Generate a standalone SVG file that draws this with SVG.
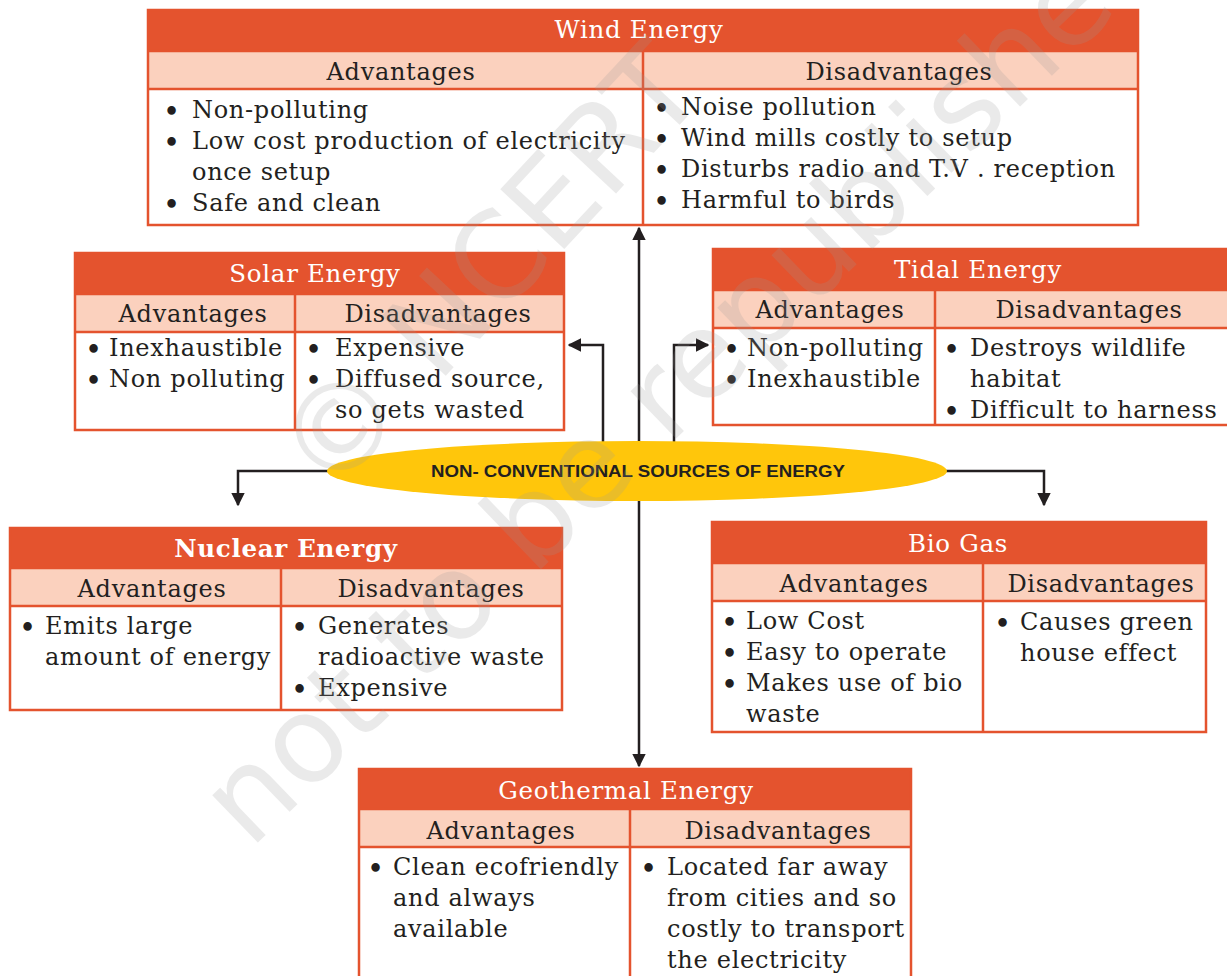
<svg xmlns="http://www.w3.org/2000/svg" width="1227" height="976" viewBox="0 0 1227 976">
<defs>
<style>
.hd{fill:#E4532E}
.sb{fill:#FBD1BE}
.bx{fill:none;stroke:#E4532E;stroke-width:2.5}
.ln{stroke:#E4532E;stroke-width:2.5}
.t{font-family:"DejaVu Serif",serif;font-size:24px;letter-spacing:0.7px;fill:#231F20}
.tt{font-family:"DejaVu Serif",serif;font-size:24.5px;letter-spacing:0.7px;fill:#FFFFFF;text-anchor:middle}
.b{font-size:29px;letter-spacing:0}
.c{text-anchor:middle}
.cn{fill:none;stroke:#231F20;stroke-width:2.5}
.wm{font-family:"DejaVu Sans",sans-serif;font-size:120px;fill:#9a9a9a;opacity:0.2}
</style>
<marker id="ah" viewBox="0 0 10 10" refX="9" refY="5" markerWidth="5.5" markerHeight="5.5" orient="auto" markerUnits="strokeWidth">
<path d="M0,0 L10,5 L0,10 z" fill="#231F20"/>
</marker>
</defs>
<rect width="1227" height="976" fill="#FFFFFF"/>

<g id="connectors">
<line class="cn" x1="639" y1="500" x2="639" y2="228" marker-end="url(#ah)"/>
<line class="cn" x1="639" y1="500" x2="639" y2="766" marker-end="url(#ah)"/>
<polyline class="cn" points="603,445 603,345 569,345" marker-end="url(#ah)"/>
<polyline class="cn" points="674,445 674,345 708,345" marker-end="url(#ah)"/>
<polyline class="cn" points="330,471 238,471 238,505" marker-end="url(#ah)"/>
<polyline class="cn" points="945,471 1044,471 1044,505" marker-end="url(#ah)"/>
</g>

<g id="center">
<ellipse cx="637" cy="471" rx="310" ry="30" fill="#FFC60B"/>
<text x="638" y="477" text-anchor="middle" font-family="Liberation Sans, Arial, sans-serif" font-weight="bold" font-size="16" textLength="414" lengthAdjust="spacingAndGlyphs" fill="#231F20">NON- CONVENTIONAL SOURCES OF ENERGY</text>
</g>

<g id="wind">
<rect class="hd" x="148" y="10" width="990" height="41"/>
<rect class="sb" x="148" y="51" width="990" height="38"/>
<rect class="bx" x="148" y="10" width="990" height="215"/>
<line class="ln" x1="148" y1="51" x2="1138" y2="51"/>
<line class="ln" x1="148" y1="89" x2="1138" y2="89"/>
<line class="ln" x1="643" y1="51" x2="643" y2="225"/>
<text class="tt" x="639" y="38">Wind Energy</text>
<text class="t c" x="401" y="80">Advantages</text>
<text class="t c" x="899" y="80">Disadvantages</text>
<text class="t" y="118"><tspan class="b" x="163" dy="4">•</tspan><tspan x="192" dy="-4">Non-polluting</tspan></text>
<text class="t" y="149"><tspan class="b" x="163" dy="4">•</tspan><tspan x="192" dy="-4">Low cost production of electricity</tspan></text>
<text class="t" x="192" y="180">once setup</text>
<text class="t" y="211"><tspan class="b" x="163" dy="4">•</tspan><tspan x="192" dy="-4">Safe and clean</tspan></text>
<text class="t" y="115"><tspan class="b" x="653" dy="4">•</tspan><tspan x="681" dy="-4">Noise pollution</tspan></text>
<text class="t" y="146"><tspan class="b" x="653" dy="4">•</tspan><tspan x="681" dy="-4">Wind mills costly to setup</tspan></text>
<text class="t" y="177"><tspan class="b" x="653" dy="4">•</tspan><tspan x="681" dy="-4">Disturbs radio and T.V . reception</tspan></text>
<text class="t" y="208"><tspan class="b" x="653" dy="4">•</tspan><tspan x="681" dy="-4">Harmful to birds</tspan></text>
</g>

<g id="solar">
<rect class="hd" x="75" y="253" width="489" height="41"/>
<rect class="sb" x="75" y="294" width="489" height="38"/>
<rect class="bx" x="75" y="253" width="489" height="177"/>
<line class="ln" x1="75" y1="294" x2="564" y2="294"/>
<line class="ln" x1="75" y1="332" x2="564" y2="332"/>
<line class="ln" x1="295" y1="294" x2="295" y2="430"/>
<text class="tt" x="315" y="282">Solar Energy</text>
<text class="t c" x="193" y="322">Advantages</text>
<text class="t c" x="438" y="322">Disadvantages</text>
<text class="t" y="356"><tspan class="b" x="85" dy="4">•</tspan><tspan x="109" dy="-4">Inexhaustible</tspan></text>
<text class="t" y="387"><tspan class="b" x="85" dy="4">•</tspan><tspan x="109" dy="-4">Non polluting</tspan></text>
<text class="t" y="356"><tspan class="b" x="305" dy="4">•</tspan><tspan x="335" dy="-4">Expensive</tspan></text>
<text class="t" y="387"><tspan class="b" x="305" dy="4">•</tspan><tspan x="335" dy="-4">Diffused source,</tspan></text>
<text class="t" x="335" y="418">so gets wasted</text>
</g>

<g id="tidal">
<rect class="hd" x="713" y="249" width="520" height="41"/>
<rect class="sb" x="713" y="290" width="520" height="38"/>
<rect class="bx" x="713" y="249" width="520" height="176"/>
<line class="ln" x1="713" y1="290" x2="1233" y2="290"/>
<line class="ln" x1="713" y1="328" x2="1233" y2="328"/>
<line class="ln" x1="935" y1="290" x2="935" y2="425"/>
<text class="tt" x="978" y="278">Tidal Energy</text>
<text class="t c" x="830" y="318">Advantages</text>
<text class="t c" x="1089" y="318">Disadvantages</text>
<text class="t" y="356"><tspan class="b" x="723" dy="4">•</tspan><tspan x="747" dy="-4">Non-polluting</tspan></text>
<text class="t" y="387"><tspan class="b" x="723" dy="4">•</tspan><tspan x="747" dy="-4">Inexhaustible</tspan></text>
<text class="t" y="356"><tspan class="b" x="943" dy="4">•</tspan><tspan x="970" dy="-4">Destroys wildlife</tspan></text>
<text class="t" x="970" y="387">habitat</text>
<text class="t" y="418"><tspan class="b" x="943" dy="4">•</tspan><tspan x="970" dy="-4">Difficult to harness</tspan></text>
</g>

<g id="nuclear">
<rect class="hd" x="10" y="528" width="552" height="40"/>
<rect class="sb" x="10" y="568" width="552" height="38"/>
<rect class="bx" x="10" y="528" width="552" height="182"/>
<line class="ln" x1="10" y1="568" x2="562" y2="568"/>
<line class="ln" x1="10" y1="606" x2="562" y2="606"/>
<line class="ln" x1="281" y1="568" x2="281" y2="710"/>
<text class="tt" x="286" y="557" font-weight="bold" letter-spacing="0.3">Nuclear Energy</text>
<text class="t c" x="152" y="597">Advantages</text>
<text class="t c" x="431" y="597">Disadvantages</text>
<text class="t" y="634"><tspan class="b" x="19" dy="4">•</tspan><tspan x="45" dy="-4">Emits large</tspan></text>
<text class="t" x="45" y="665">amount of energy</text>
<text class="t" y="634"><tspan class="b" x="291" dy="4">•</tspan><tspan x="318" dy="-4">Generates</tspan></text>
<text class="t" x="318" y="665">radioactive waste</text>
<text class="t" y="696"><tspan class="b" x="291" dy="4">•</tspan><tspan x="318" dy="-4">Expensive</tspan></text>
</g>

<g id="biogas">
<rect class="hd" x="712" y="522" width="494" height="41"/>
<rect class="sb" x="712" y="563" width="494" height="38"/>
<rect class="bx" x="712" y="522" width="494" height="210"/>
<line class="ln" x1="712" y1="563" x2="1206" y2="563"/>
<line class="ln" x1="712" y1="601" x2="1206" y2="601"/>
<line class="ln" x1="983" y1="563" x2="983" y2="732"/>
<text class="tt" x="958" y="552">Bio Gas</text>
<text class="t c" x="854" y="592">Advantages</text>
<text class="t c" x="1101" y="592">Disadvantages</text>
<text class="t" y="629"><tspan class="b" x="721" dy="4">•</tspan><tspan x="746" dy="-4">Low Cost</tspan></text>
<text class="t" y="660"><tspan class="b" x="721" dy="4">•</tspan><tspan x="746" dy="-4">Easy to operate</tspan></text>
<text class="t" y="691"><tspan class="b" x="721" dy="4">•</tspan><tspan x="746" dy="-4">Makes use of bio</tspan></text>
<text class="t" x="746" y="722">waste</text>
<text class="t" y="630"><tspan class="b" x="994" dy="4">•</tspan><tspan x="1020" dy="-4">Causes green</tspan></text>
<text class="t" x="1020" y="661">house effect</text>
</g>

<g id="geothermal">
<rect class="hd" x="359" y="769" width="552" height="40"/>
<rect class="sb" x="359" y="809" width="552" height="38"/>
<rect class="bx" x="359" y="769" width="552" height="215"/>
<line class="ln" x1="359" y1="809" x2="911" y2="809"/>
<line class="ln" x1="359" y1="847" x2="911" y2="847"/>
<line class="ln" x1="630" y1="809" x2="630" y2="984"/>
<text class="tt" x="626" y="799">Geothermal Energy</text>
<text class="t c" x="501" y="839">Advantages</text>
<text class="t c" x="778" y="839">Disadvantages</text>
<text class="t" y="875"><tspan class="b" x="367" dy="4">•</tspan><tspan x="393" dy="-4">Clean ecofriendly</tspan></text>
<text class="t" x="393" y="906">and always</text>
<text class="t" x="393" y="937">available</text>
<text class="t" y="875"><tspan class="b" x="640" dy="4">•</tspan><tspan x="667" dy="-4">Located far away</tspan></text>
<text class="t" x="667" y="906">from cities and so</text>
<text class="t" x="667" y="937">costly to transport</text>
<text class="t" x="667" y="968">the electricity</text>
</g>

<g id="watermark">
<text class="wm" transform="translate(330,500) rotate(-47)">© NCERT</text>
<text class="wm" transform="translate(250,850) rotate(-44)">not to be republished</text>
</g>
</svg>
